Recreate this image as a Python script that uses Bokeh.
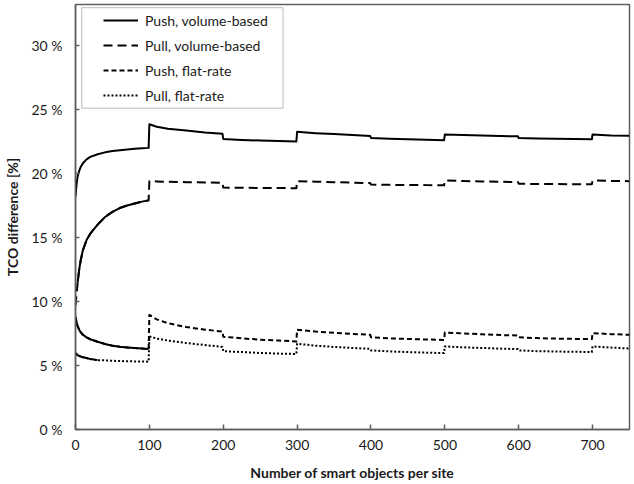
from bokeh.plotting import figure
from bokeh.models import (Legend, LegendItem, BoxAnnotation,
                          FixedTicker, ColumnDataSource)
from bokeh.embed import file_html
from bokeh.resources import INLINE

# Number of smart objects per site (x) and TCO difference in percent per scenario
objects_per_site = [0, 1, 2, 3, 5, 7, 10, 15, 20, 30, 40, 50, 60, 70, 80, 90, 99,
                    100, 110, 125, 150, 175, 199,
                    200, 225, 250, 275, 299,
                    300, 325, 350, 375, 399,
                    400, 425, 450, 475, 499,
                    500, 525, 550, 575, 599,
                    600, 625, 650, 675, 699,
                    700, 725, 750]

push_volume = [18.2, 18.9, 19.4, 19.8, 20.2, 20.5, 20.8, 21.1, 21.3, 21.5, 21.65, 21.75, 21.82, 21.88, 21.93, 21.97, 22.0,
               23.85, 23.65, 23.5, 23.35, 23.2, 23.1,
               22.7, 22.62, 22.57, 22.53, 22.5,
               23.25, 23.15, 23.08, 23.0, 22.93,
               22.77, 22.72, 22.67, 22.63, 22.6,
               23.05, 23.0, 22.96, 22.93, 22.9,
               22.77, 22.74, 22.71, 22.69, 22.67,
               23.05, 22.97, 22.95]

pull_volume = [9.7, 10.3, 10.9, 11.5, 12.5, 13.2, 14.0, 14.8, 15.3, 16.0, 16.6, 17.0, 17.3, 17.5, 17.65, 17.8, 17.9,
               19.4, 19.38, 19.35, 19.32, 19.3, 19.28,
               18.9, 18.88, 18.87, 18.86, 18.85,
               19.4, 19.36, 19.32, 19.28, 19.25,
               19.13, 19.11, 19.1, 19.09, 19.08,
               19.45, 19.41, 19.38, 19.35, 19.33,
               19.2, 19.18, 19.17, 19.16, 19.15,
               19.45, 19.42, 19.4]

push_flat = [8.8, 8.5, 8.25, 8.05, 7.8, 7.6, 7.4, 7.2, 7.05, 6.85, 6.68, 6.55, 6.47, 6.41, 6.36, 6.32, 6.28,
             8.95, 8.6, 8.3, 8.0, 7.8, 7.65,
             7.25, 7.12, 7.02, 6.95, 6.88,
             7.8, 7.65, 7.55, 7.47, 7.4,
             7.2, 7.12, 7.07, 7.03, 7.0,
             7.58, 7.5, 7.44, 7.38, 7.34,
             7.2, 7.14, 7.1, 7.08, 7.06,
             7.53, 7.45, 7.4]

pull_flat = [5.95, 5.9, 5.85, 5.8, 5.75, 5.7, 5.65, 5.58, 5.5, 5.42, 5.4, 5.37, 5.35, 5.33, 5.32, 5.31, 5.3,
             7.28, 7.1, 6.95, 6.75, 6.6, 6.45,
             6.12, 6.05, 5.98, 5.93, 5.9,
             6.7, 6.55, 6.45, 6.37, 6.3,
             6.18, 6.1, 6.05, 6.0, 5.97,
             6.49, 6.42, 6.37, 6.32, 6.28,
             6.18, 6.12, 6.09, 6.07, 6.05,
             6.49, 6.4, 6.33]

series_labels = ["Push, volume-based", "Pull, volume-based", "Push, flat-rate", "Pull, flat-rate"]

x_ticks = [0, 100, 200, 300, 400, 500, 600, 700]
y_ticks = [0, 5, 10, 15, 20, 25, 30]
y_tick_labels = ["0 %", "5 %", "10 %", "15 %", "20 %", "25 %", "30 %"]

FONT = "Lato"
TEXT = "#1a1a1a"
AXIS = "#5f5f5f"

p = figure(width=634, height=484, x_range=(0, 750), y_range=(0, 33.2),
           output_backend="svg", toolbar_location=None,
           min_border_left=75, min_border_right=5, min_border_top=4, min_border_bottom=55)
p.grid.visible = False
p.outline_line_color = AXIS
p.outline_line_width = 1.5
p.background_fill_color = "white"
p.border_fill_color = "white"

# axes
p.xaxis.ticker = FixedTicker(ticks=x_ticks)
p.yaxis.ticker = FixedTicker(ticks=y_ticks)
p.yaxis.major_label_overrides = {t: s for t, s in zip(y_ticks, y_tick_labels)}
for ax in (p.xaxis, p.yaxis):
    ax.axis_line_color = AXIS
    ax.axis_line_width = 1.5
    ax.major_tick_line_color = AXIS
    ax.major_tick_line_width = 1.5
    ax.minor_tick_line_color = None
    ax.major_label_text_font = FONT
    ax.major_label_text_font_size = "14px"
    ax.major_label_text_color = TEXT
    ax.axis_label_text_font = FONT
    ax.axis_label_text_font_style = "bold"
    ax.axis_label_text_font_size = "14px"
    ax.axis_label_text_color = TEXT
p.xaxis.major_tick_in = 5
p.xaxis.major_tick_out = 0
p.xaxis.major_label_standoff = 10
p.xaxis.axis_label = "Number of smart objects per site"
p.xaxis.axis_label_standoff = 11
p.yaxis.major_tick_in = 4
p.yaxis.major_tick_out = 0
p.yaxis.major_label_standoff = 13
p.yaxis.axis_label = "TCO difference [%]"
p.yaxis.axis_label_standoff = 7

src = ColumnDataSource(dict(x=objects_per_site, push_volume=push_volume,
                            pull_volume=pull_volume, push_flat=push_flat,
                            pull_flat=pull_flat))

styles = [("push_volume", "solid"), ("pull_volume", "9 5"),
          ("push_flat", "5 3"), ("pull_flat", "2 2")]
renderers = []
for col, dash in styles:
    r = p.line("x", col, source=src, line_color="black", line_width=2,
               line_dash=dash, line_join="round")
    renderers.append(r)

# dense first segment renders as a continuous stroke
solid_spans = {"pull_volume": (3, 17), "push_flat": (0, 17), "pull_flat": (0, 10)}
series_values = {"pull_volume": pull_volume, "push_flat": push_flat, "pull_flat": pull_flat}
for col, (a, b) in solid_spans.items():
    p.line(objects_per_site[a:b], series_values[col][a:b], line_color="black",
           line_width=2, line_join="round")

# legend frame
p.add_layout(BoxAnnotation(left=8.5, right=281, bottom=25.1, top=32.95,
                           fill_color="white", fill_alpha=1.0,
                           line_color="#222222", line_width=1, level="annotation"))

legend = Legend(items=[LegendItem(label=lab, renderers=[r])
                       for lab, r in zip(series_labels, renderers)],
                location=(28, 324), orientation="vertical",
                glyph_width=35, glyph_height=20, label_height=20,
                label_standoff=7, spacing=5, padding=0, margin=0,
                label_text_font=FONT, label_text_font_size="14px",
                label_text_color=TEXT,
                border_line_alpha=0, background_fill_alpha=0)
p.add_layout(legend)

open("out.html", "w").write(file_html(p, INLINE))
